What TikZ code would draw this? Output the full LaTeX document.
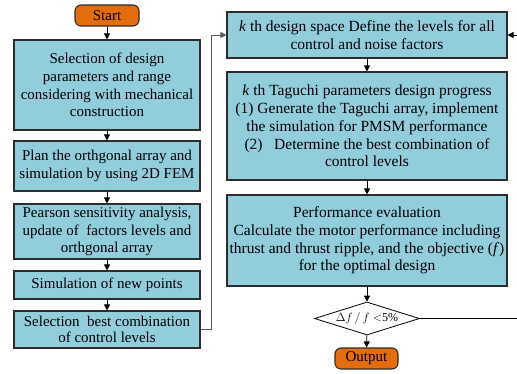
\documentclass[tikz,border=0pt]{standalone}
\usepackage{fontspec}
\setmainfont{Liberation Serif}
\usetikzlibrary{shapes.geometric,arrows.meta}
\definecolor{boxblue}{RGB}{146,205,220}
\definecolor{termorange}{RGB}{228,108,10}
\definecolor{edgegray}{RGB}{45,45,45}
\begin{document}
\begin{tikzpicture}[x=1pt,y=-1pt,
  box/.style={draw=edgegray,line width=1.1pt,fill=boxblue,inner sep=0pt,align=center,
    font=\fontsize{15}{17.8}\selectfont},
  rbox/.style={box,font=\fontsize{15.5}{17.8}\selectfont},
  term/.style={draw=edgegray,line width=1.1pt,fill=termorange,rounded corners=6pt,inner sep=0pt,
    font=\fontsize{15}{15}\selectfont},
  arr/.style={draw=black,line width=0.8pt,-{Triangle[length=6pt,width=6pt]}},
  loopline/.style={draw=black!65,line width=1pt,-{Triangle[length=6pt,width=6pt]}}]
\clip (0,0) rectangle (517,373);
\useasboundingbox (0,0) rectangle (517,373);
\fill[white] (0,0) rectangle (517,373);
\node[term,minimum width=64pt,minimum height=21pt] (start) at (107,15.5) {Start};
\node[box,minimum width=186pt,minimum height=90pt] (b1) at (107,85) {Selection of design\\parameters and range\\considering with mechanical\\construction};
\node[box,minimum width=186pt,minimum height=50pt] (b2) at (107,166) {Plan the orthgonal array and\\simulation by using 2D FEM};
\node[box,minimum width=186pt,minimum height=55pt] (b3) at (107,231.5) {Pearson sensitivity analysis,\\update of\ \ factors levels and\\orthgonal array};
\node[box,minimum width=186pt,minimum height=28pt] (b4) at (107,285) {Simulation of new points};
\node[box,minimum width=186pt,minimum height=37pt,font=\fontsize{15}{16.5}\selectfont] (b5) at (107,329.5) {Selection\ \ best combination\\of control levels};
\node[rbox,minimum width=280pt,minimum height=46pt] (ba) at (367,35) {\textit{k} th design space Define the levels for all\\control and noise factors};
\node[rbox,minimum width=280pt,minimum height=108pt] (bb) at (367,126) {\textit{k} th Taguchi parameters design progress\\(1) Generate the Taguchi array, implement\\the simulation for PMSM performance\\(2)\ \ \ Determine the best combination of\\control levels};
\node[rbox,minimum width=280pt,minimum height=91pt] (bc) at (367,240.5) {Performance evaluation\\Calculate the motor performance including\\thrust and thrust ripple, and the objective (\textit{f})\\for the optimal design};
\node[draw=black,line width=0.8pt,fill=white,diamond,aspect=3.2,minimum width=105pt,minimum height=33pt,inner sep=0pt,
  font=\fontsize{12}{13}\selectfont] (dec) at (367,318.5) {$\Delta f\,/\,f<$5\%};
\node[term,minimum width=63pt,minimum height=21pt] (out) at (366.5,358.5) {Output};
\coordinate (lc) at (211,35);
\coordinate (rc) at (530,318.5);
\draw[arr] (start) -- (b1);
\draw[arr] (b1) -- (b2);
\draw[arr] (b2) -- (b3);
\draw[arr] (b3) -- (b4);
\draw[arr] (b4) -- (b5);
\draw[loopline] (b5.east) -| (lc) -- (ba.west);
\draw[arr] (ba) -- (bb);
\draw[arr] (bb) -- (bc);
\draw[arr] (bc) -- (dec);
\draw[arr] (dec) -- (out);
\draw[arr] (dec.east) -- (rc) |- (ba.east);
\end{tikzpicture}
\end{document}
